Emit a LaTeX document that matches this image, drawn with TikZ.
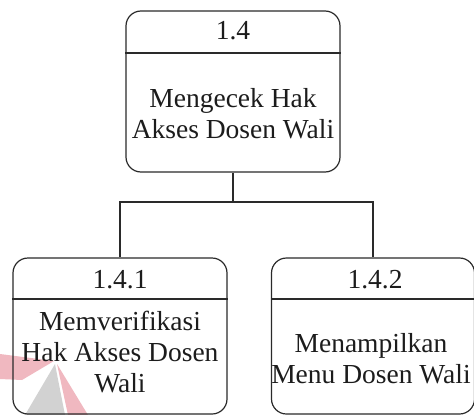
\documentclass[tikz,border=0pt]{standalone}
\usepackage{fontspec}
\setmainfont{Liberation Serif}
\definecolor{edge}{HTML}{2A2A2A}
\definecolor{ink}{HTML}{1C1C1C}
\definecolor{wmpink}{HTML}{F0B8C0}
\definecolor{wmgray}{HTML}{D2D2D2}
\begin{document}
\begin{tikzpicture}[x=1pt,y=-1pt,
  procbox/.style={draw=edge, line width=1.2pt, rounded corners=15pt, inner sep=0pt},
  divider/.style={draw=edge, line width=1.2pt},
  link/.style={draw=edge, line width=1.2pt},
  idtext/.style={text=ink, font=\fontsize{27.5}{31}\selectfont, inner sep=0pt, anchor=base},
  bodytext/.style={text=ink, font=\fontsize{27.5}{31}\selectfont, align=center, inner sep=0pt}]
\useasboundingbox (0,0) rectangle (474,415);

% faint logo watermark in the lower left corner
\fill[wmpink] (0,354) -- (54,361) -- (22,380) -- (0,379) -- cycle;
\fill[wmgray] (55,364) -- (25,415) -- (65,415) -- cycle;
\fill[wmpink] (57,364) -- (68,415) -- (88,415) -- cycle;

% process boxes
\node[procbox, minimum width=214pt, minimum height=161pt] (p14) at (233,91.5) {};
\node[procbox, minimum width=214pt, minimum height=156pt] (p141) at (120,336) {};
\node[procbox, minimum width=203pt, minimum height=156pt] (p142) at (373,336) {};

% header dividers
\draw[divider] (p14.west |- 0,53) -- (p14.east |- 0,53);
\draw[divider] (p141.west |- 0,299) -- (p141.east |- 0,299);
\draw[divider] (p142.west |- 0,299) -- (p142.east |- 0,299);

% identifiers
\node[idtext] (id14) at (233,39) {1.4};
\node[idtext] (id141) at (120,288) {1.4.1};
\node[idtext] (id142) at (375,288) {1.4.2};

% descriptions
\node[bodytext] (t14) at (233,114) {Mengecek Hak\\Akses Dosen Wali};
\node[bodytext] (t141) at (120,352) {Memverifikasi\\Hak Akses Dosen\\Wali};
\node[bodytext] (t142) at (371,359) {Menampilkan\\Menu Dosen Wali};

% decomposition connectors
\coordinate (j) at (233,202);
\draw[link] (p14.south) -- (j);
\draw[link] (p141.north) |- (j) -| (p142.north);
\end{tikzpicture}
\end{document}
